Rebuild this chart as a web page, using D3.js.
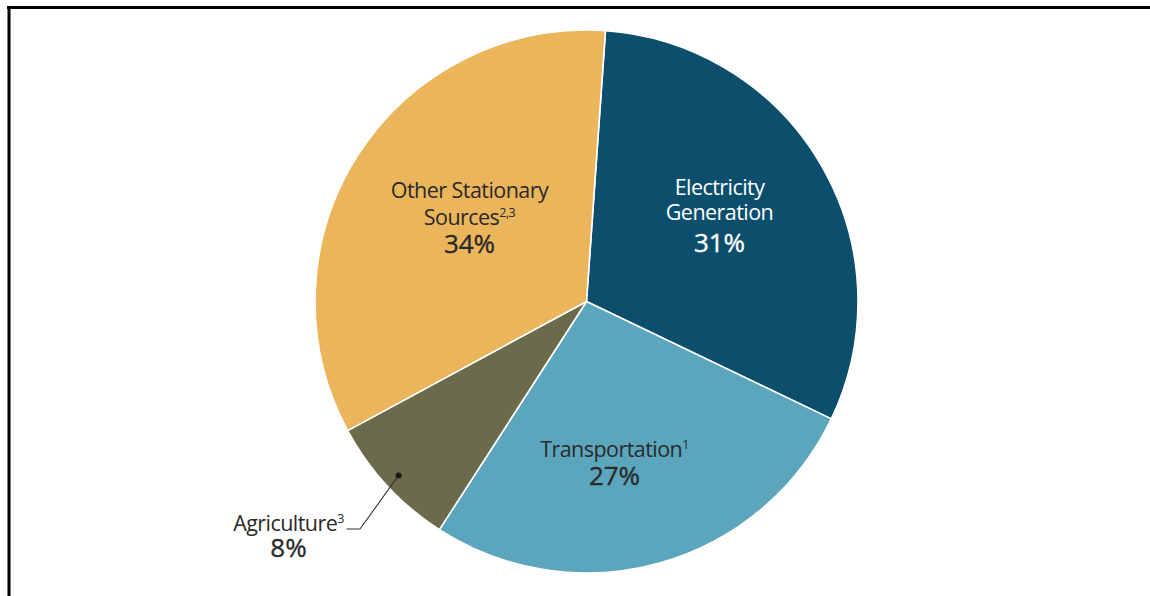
<!DOCTYPE html>
<html>
<head>
<meta charset="utf-8">
<script src="https://cdn.jsdelivr.net/npm/d3@7"></script>
<style>
  html, body { margin: 0; padding: 0; background: #fff; }
  svg { display: block; }
  text { font-family: "Open Sans", "Noto Sans", sans-serif; }
</style>
</head>
<body>
<svg id="chart" width="1150" height="596"></svg>
<script>
// ---- data ----
const categories = ["Electricity Generation", "Transportation", "Agriculture", "Other Stationary Sources"];
const values = [31, 27, 8, 34];
const colors = ["#0b4f6c", "#5ba6bd", "#6b6a4a", "#ebb55c"];
const labelLines = [["Electricity", "Generation"], ["Transportation"], ["Agriculture"], ["Other Stationary", "Sources"]];
const superscripts = ["", "1", "3", "2,3"];
const percentLabels = ["31%", "27%", "8%", "34%"];

const svg = d3.select("#chart");
const W = 1150, H = 596;

// frame
svg.append("line").attr("x1", 7).attr("x2", W).attr("y1", 7.5).attr("y2", 7.5)
  .attr("stroke", "#000").attr("stroke-width", 3);
svg.append("line").attr("x1", 9).attr("x2", 9).attr("y1", 6).attr("y2", H)
  .attr("stroke", "#000").attr("stroke-width", 3);

const cx = 586.5, cy = 301.5, R = 271.5;
const g = svg.append("g").attr("transform", `translate(${cx},${cy})`);

const data = categories.map((c, i) => ({ name: c, value: values[i], i }));
const pie = d3.pie().value(d => d.value).sort(null)
  .startAngle(0.07).endAngle(0.07 + 2 * Math.PI);
const arc = d3.arc().innerRadius(0).outerRadius(R);

g.selectAll("path.slice").data(pie(data)).join("path")
  .attr("class", "slice")
  .attr("d", arc)
  .attr("fill", d => colors[d.data.i])
  .attr("stroke", "#fff")
  .attr("stroke-width", 1.6)
  .attr("stroke-linejoin", "round");

// label layout (offsets from pie centre)
const layout = [
  { x: 133, ys: [-107, -82], py: -50, fill: "#ffffff" },
  { x: 28,  ys: [155],       py: 183, fill: "#2a2a2a" },
  { x: -298, ys: [229],      py: 255, fill: "#2a2a2a" },
  { x: -117, ys: [-104, -77], py: -49, fill: "#2a2a2a" }
];

const labelSize = 21.5, pctSize = 26;
layout.forEach((L, i) => {
  const lines = labelLines[i];
  lines.forEach((ln, j) => {
    const t = g.append("text")
      .attr("x", L.x).attr("y", L.ys[j])
      .attr("text-anchor", "middle")
      .attr("fill", L.fill)
      .attr("font-size", labelSize)
      .attr("letter-spacing", -0.55)
      .text(ln);
    if (j === lines.length - 1 && superscripts[i]) {
      t.append("tspan")
        .attr("font-size", 12.5)
        .attr("dy", -8)
        .text(superscripts[i]);
    }
  });
  g.append("text")
    .attr("x", L.x).attr("y", L.py)
    .attr("text-anchor", "middle")
    .attr("fill", L.fill)
    .attr("stroke", L.fill)
    .attr("stroke-width", 0.35)
    .attr("font-size", pctSize)
    .text(percentLabels[i]);
});

// agriculture leader line
const agri = pie(data)[2];
const mid = (agri.startAngle + agri.endAngle) / 2;
const dotR = 256;
const dx = Math.sin(mid) * dotR, dy = -Math.cos(mid) * dotR;
g.append("polyline")
  .attr("points", [[dx, dy], [-226.5, 227.5], [-240, 227.5]].map(p => p.join(",")).join(" "))
  .attr("fill", "none").attr("stroke", "#333").attr("stroke-width", 1.1);
g.append("circle").attr("cx", dx).attr("cy", dy).attr("r", 3).attr("fill", "#1a1a1a");
</script>
</body>
</html>
